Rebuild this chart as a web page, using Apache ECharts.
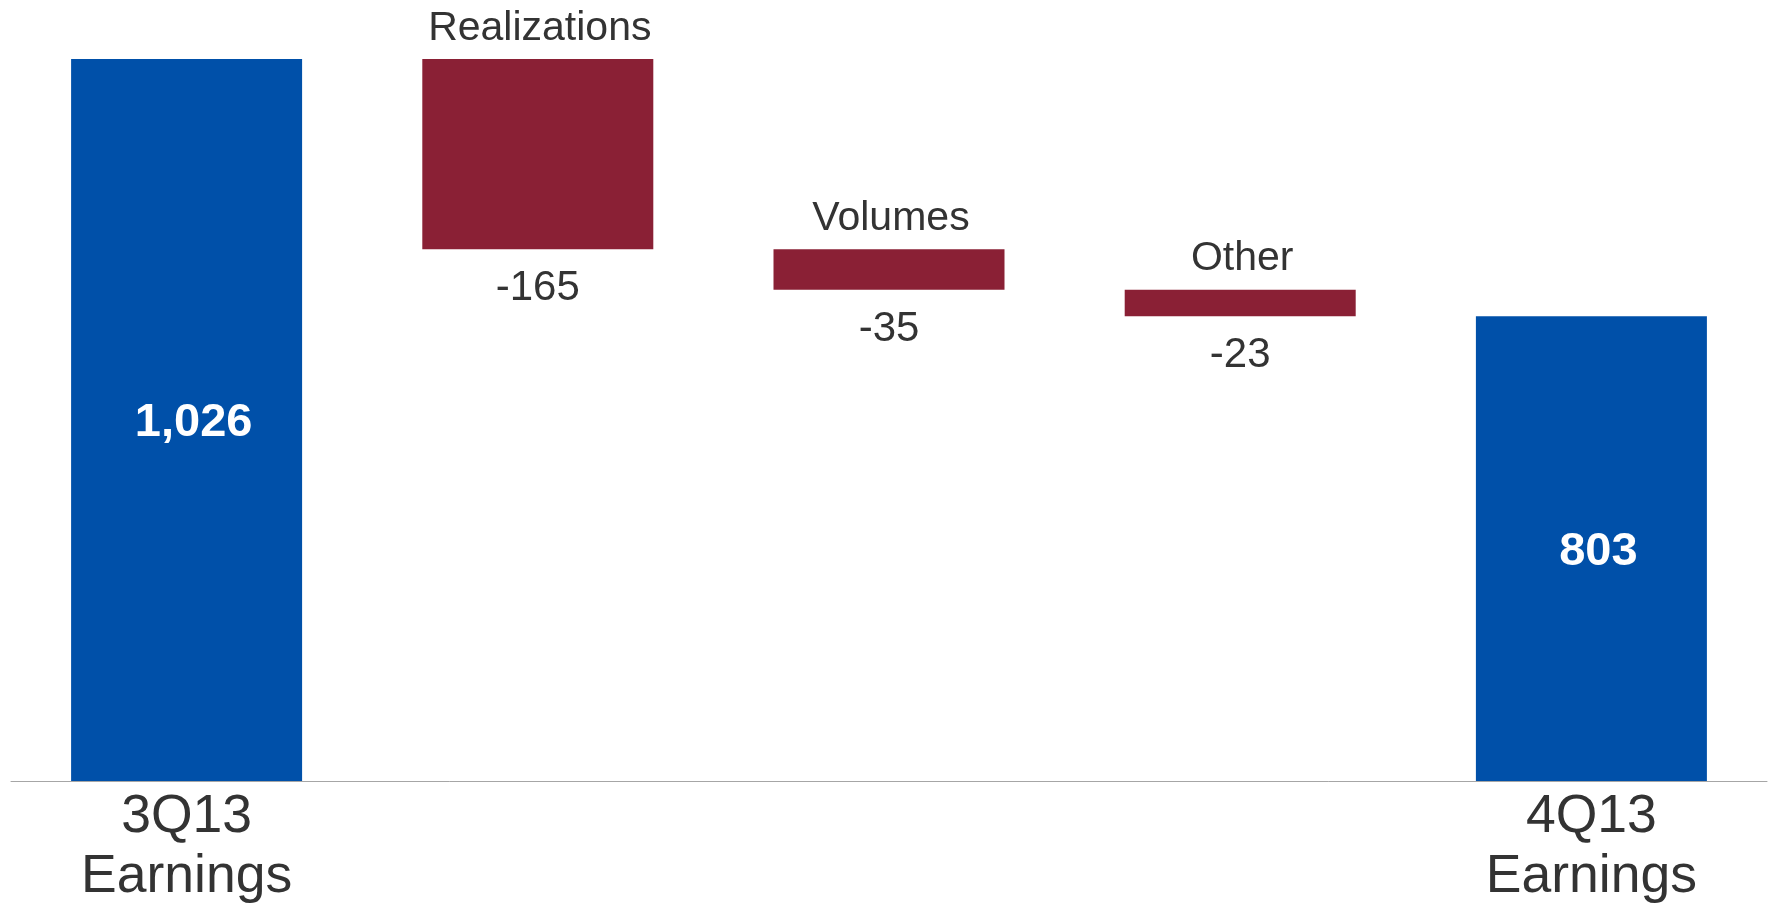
<!DOCTYPE html>
<html>
<head>
<meta charset="utf-8">
<title>3Q13 to 4Q13 Earnings</title>
<script src="https://cdn.jsdelivr.net/npm/echarts@6/dist/echarts.min.js"></script>
<style>
  html, body { margin: 0; padding: 0; background: #ffffff; }
  #chart { width: 1772px; height: 907px; }
</style>
</head>
<body>
<div id="chart"></div>
<script>
// Earnings bridge, 3Q13 -> 4Q13
const categories = ['3Q13\nEarnings', 'Realizations', 'Volumes', 'Other', '4Q13\nEarnings'];
const startValue = 1026;
const changes = [-165, -35, -23];
const endValue = 803;

const BLUE = '#0050A9';
const RED = '#8A2035';
const TEXT = '#333333';
const FONT = "'Liberation Sans', Arial, sans-serif";

const totalLabel = (v) => ({
  show: true, position: 'inside', offset: [7, 3], color: '#ffffff', fontWeight: 'bold', fontSize: 47,
  formatter: () => v.toLocaleString('en-US')
});

// Build the invisible base and the visible bar for each step of the bridge
const baseData = [0];
const barData = [];
barData.push({ value: startValue, itemStyle: { color: BLUE }, label: totalLabel(startValue) });
let running = startValue;
changes.forEach((c, i) => {
  running += c;
  baseData.push({
    value: running,
    label: {
      show: true, position: 'insideTop', distance: 18.5, color: TEXT, fontSize: 42,
      formatter: () => String(c)
    }
  });
  barData.push({
    value: -c,
    itemStyle: { color: RED },
    label: {
      show: true, position: 'top', distance: 10, offset: [2, 0], color: TEXT, fontSize: 41,
      formatter: () => categories[i + 1]
    }
  });
});
baseData.push(0);
barData.push({ value: endValue, itemStyle: { color: BLUE }, label: totalLabel(endValue) });

const chart = echarts.init(document.getElementById('chart'), null, { renderer: 'canvas' });
chart.setOption({
  animation: false,
  backgroundColor: '#ffffff',
  textStyle: { fontFamily: FONT },
  grid: { left: 11, right: 5, top: 31.3, bottom: 126, containLabel: false },
  xAxis: {
    type: 'category',
    data: categories,
    axisLine: { onZero: false, lineStyle: { color: '#a6a6a6', width: 1 } },
    axisTick: { show: false },
    axisLabel: {
      interval: 0,
      margin: 6,
      color: TEXT,
      fontSize: 53.5,
      lineHeight: 60,
      fontFamily: FONT,
      formatter: (v, idx) => (idx === 0 || idx === categories.length - 1) ? v : ''
    },
    splitLine: { show: false }
  },
  yAxis: {
    type: 'value',
    min: 400,
    max: 1050,
    show: false,
    splitLine: { show: false }
  },
  series: [
    {
      name: 'base',
      type: 'bar',
      stack: 'bridge',
      barWidth: 231,
      clip: true,
      silent: true,
      itemStyle: { color: 'rgba(0,0,0,0)' },
      label: { fontFamily: FONT },
      data: baseData
    },
    {
      name: 'change',
      type: 'bar',
      stack: 'bridge',
      barWidth: 231,
      clip: true,
      label: { fontFamily: FONT },
      data: barData
    }
  ]
});
</script>
</body>
</html>
